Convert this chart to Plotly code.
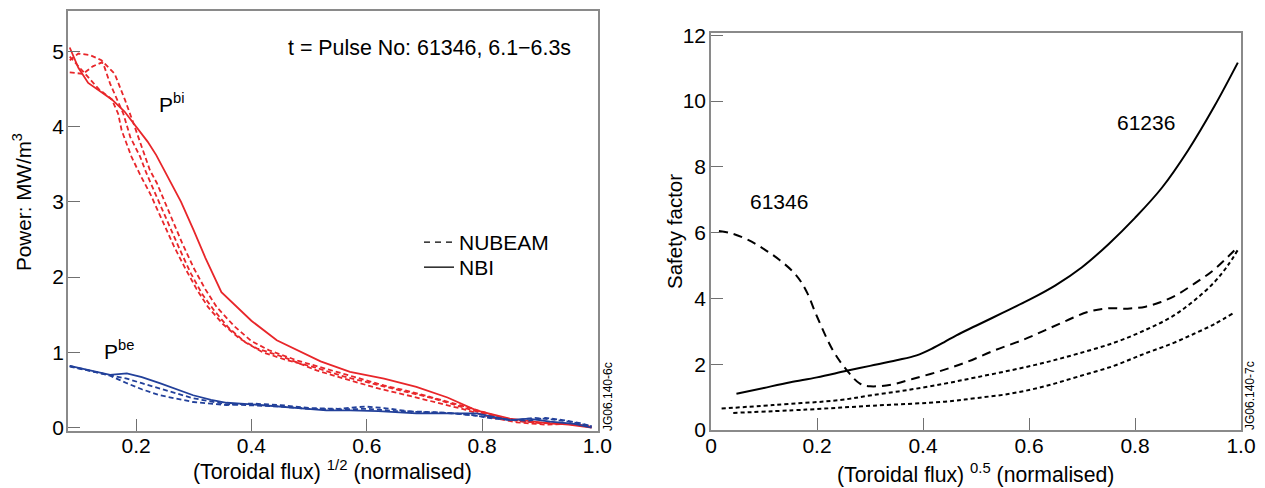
import plotly.graph_objects as go

# ---------------- Left panel: power deposition ----------------
pbi_nbi_x = [0.085, 0.10, 0.117, 0.14, 0.158, 0.18, 0.201, 0.22, 0.235, 0.255, 0.278, 0.30, 0.32, 0.348,
             0.40, 0.444, 0.478, 0.52, 0.571, 0.63, 0.686, 0.74, 0.79, 0.848, 0.90, 0.95, 0.99]
pbi_nbi_y = [5.05, 4.78, 4.58, 4.45, 4.36, 4.2, 3.99, 3.80, 3.62, 3.33, 3.0, 2.62, 2.26, 1.8,
             1.42, 1.16, 1.03, 0.88, 0.74, 0.65, 0.54, 0.40, 0.23, 0.12, 0.07, 0.04, 0.0]

pbi_nb1_x = [0.085, 0.10, 0.12, 0.14, 0.163, 0.181, 0.198, 0.212, 0.224, 0.236, 0.25, 0.262, 0.28, 0.30,
             0.32, 0.34, 0.37, 0.40, 0.43, 0.48, 0.53, 0.58, 0.63, 0.68, 0.73, 0.78, 0.83, 0.87, 0.92,
             0.96, 0.99]
pbi_nb1_y = [4.88, 4.97, 4.95, 4.88, 4.70, 4.35, 3.99, 3.68, 3.42, 3.25, 3.0, 2.78, 2.45, 2.12,
             1.84, 1.60, 1.35, 1.15, 1.03, 0.89, 0.78, 0.66, 0.56, 0.47, 0.37, 0.26, 0.14, 0.08, 0.06,
             0.05, 0.01]

pbi_nb2_x = [0.085, 0.108, 0.125, 0.14, 0.143, 0.155, 0.178, 0.19, 0.207, 0.218, 0.235, 0.255, 0.275,
             0.295, 0.315, 0.335, 0.36, 0.39, 0.42, 0.46, 0.51, 0.56, 0.61, 0.66, 0.71, 0.76, 0.81,
             0.86, 0.90, 0.95, 0.99]
pbi_nb2_y = [4.72, 4.70, 4.80, 4.85, 4.84, 4.57, 4.17, 3.86, 3.6, 3.38, 3.08, 2.72, 2.38,
             2.05, 1.77, 1.56, 1.33, 1.13, 1.00, 0.90, 0.80, 0.68, 0.58, 0.49, 0.40, 0.29, 0.17,
             0.09, 0.06, 0.05, 0.01]

pbi_nb3_x = [0.085, 0.10, 0.115, 0.135, 0.158, 0.169, 0.175, 0.184, 0.192, 0.207, 0.225, 0.245, 0.265,
             0.285, 0.305, 0.325, 0.35, 0.38, 0.41, 0.455, 0.513, 0.57, 0.62, 0.67, 0.72, 0.77, 0.82,
             0.86, 0.91, 0.95, 0.99]
pbi_nb3_y = [4.93, 4.80, 4.66, 4.50, 4.36, 4.17, 3.95, 3.77, 3.6, 3.36, 3.10, 2.76, 2.42,
             2.12, 1.84, 1.60, 1.38, 1.18, 1.05, 0.94, 0.76, 0.63, 0.52, 0.43, 0.34, 0.24, 0.13,
             0.07, 0.04, 0.05, 0.01]

pbe_nbi_x = [0.085, 0.12, 0.155, 0.184, 0.21, 0.241, 0.27, 0.299, 0.33, 0.357, 0.40, 0.444, 0.49, 0.53,
             0.571, 0.62, 0.686, 0.74, 0.79, 0.848, 0.88, 0.918, 0.96, 0.99]
pbe_nbi_y = [0.82, 0.76, 0.70, 0.72, 0.67, 0.59, 0.51, 0.43, 0.37, 0.33, 0.31, 0.285, 0.26, 0.23,
             0.23, 0.22, 0.19, 0.19, 0.19, 0.10, 0.12, 0.08, 0.05, 0.0]

pbe_nb1_x = [0.085, 0.12, 0.155, 0.184, 0.21, 0.241, 0.27, 0.299, 0.357, 0.40, 0.45, 0.50, 0.55, 0.597,
             0.63, 0.68, 0.73, 0.78, 0.82, 0.86, 0.89, 0.92, 0.95, 0.99]
pbe_nb1_y = [0.82, 0.76, 0.69, 0.59, 0.51, 0.43, 0.38, 0.34, 0.30, 0.32, 0.30, 0.26, 0.25, 0.28,
             0.26, 0.21, 0.20, 0.17, 0.12, 0.10, 0.13, 0.11, 0.08, 0.02]

pbe_nb2_x = [0.085, 0.12, 0.155, 0.184, 0.21, 0.241, 0.27, 0.299, 0.357, 0.40, 0.45, 0.50, 0.55, 0.60,
             0.65, 0.70, 0.75, 0.80, 0.84, 0.88, 0.91, 0.94, 0.97, 0.99]
pbe_nb2_y = [0.81, 0.75, 0.70, 0.65, 0.59, 0.52, 0.45, 0.39, 0.31, 0.30, 0.28, 0.25, 0.24, 0.25,
             0.22, 0.21, 0.19, 0.15, 0.11, 0.09, 0.13, 0.10, 0.06, 0.02]

# ---------------- Right panel: safety factor ----------------
q61236_x = [0.048, 0.10, 0.15, 0.20, 0.256, 0.30, 0.35, 0.388, 0.42, 0.441, 0.463, 0.50, 0.55, 0.598,
            0.65, 0.70, 0.75, 0.80, 0.85, 0.90, 0.95, 0.994]
q61236_y = [1.1, 1.28, 1.45, 1.6, 1.8, 1.95, 2.12, 2.27, 2.50, 2.68, 2.88, 3.17, 3.56, 3.94,
            4.4, 4.95, 5.65, 6.45, 7.35, 8.5, 9.85, 11.17]

q61346_x = [0.015, 0.04, 0.07, 0.10, 0.13, 0.16, 0.18, 0.20, 0.23, 0.256, 0.281, 0.30, 0.34, 0.38,
            0.43, 0.48, 0.535, 0.59, 0.63, 0.67, 0.711, 0.75, 0.786, 0.82, 0.849, 0.88, 0.912, 0.945,
            0.975, 0.995]
q61346_y = [6.05, 5.97, 5.78, 5.50, 5.16, 4.72, 4.22, 3.45, 2.42, 1.82, 1.41, 1.33, 1.38, 1.55,
            1.78, 2.05, 2.42, 2.75, 3.03, 3.32, 3.59, 3.70, 3.69, 3.75, 3.89, 4.12, 4.45, 4.82,
            5.26, 5.58]

qa_x = [0.02, 0.117, 0.243, 0.30, 0.369, 0.441, 0.50, 0.567, 0.63, 0.692, 0.76, 0.818, 0.87, 0.912,
        0.95, 0.975, 0.995]
qa_y = [0.65, 0.76, 0.91, 1.05, 1.21, 1.41, 1.60, 1.82, 2.05, 2.32, 2.65, 3.03, 3.45, 3.94,
        4.50, 5.0, 5.5]

qb_x = [0.042, 0.18, 0.306, 0.441, 0.50, 0.567, 0.63, 0.692, 0.76, 0.818, 0.87, 0.912, 0.95, 0.984]
qb_y = [0.52, 0.62, 0.74, 0.86, 0.97, 1.11, 1.33, 1.62, 1.95, 2.32, 2.63, 2.93, 3.22, 3.54]

RED = "#e8262a"
BLUE = "#22409a"
FONT = "Liberation Sans, Arial, Helvetica, sans-serif"

fig = go.Figure()

def add(x, y, color, dash, xa, ya, width=1.8, shape="linear"):
    fig.add_trace(go.Scatter(x=x, y=y, mode="lines", xaxis=xa, yaxis=ya,
                             line=dict(color=color, width=width, dash=dash, shape=shape),
                             showlegend=False, hoverinfo="skip"))

ddash = "5px,3px"
add(pbi_nbi_x, pbi_nbi_y, RED, "solid", "x", "y")
add(pbi_nb1_x, pbi_nb1_y, RED, ddash, "x", "y")
add(pbi_nb2_x, pbi_nb2_y, RED, ddash, "x", "y")
add(pbi_nb3_x, pbi_nb3_y, RED, ddash, "x", "y")
add(pbe_nbi_x, pbe_nbi_y, BLUE, "solid", "x", "y")
add(pbe_nb1_x, pbe_nb1_y, BLUE, ddash, "x", "y")
add(pbe_nb2_x, pbe_nb2_y, BLUE, ddash, "x", "y")

# legend entries (style keys)
fig.add_trace(go.Scatter(x=[None], y=[None], mode="lines", xaxis="x", yaxis="y",
                         line=dict(color="black", width=1.3, dash="6px,5px"), name="NUBEAM",
                         legend="legend"))
fig.add_trace(go.Scatter(x=[None], y=[None], mode="lines", xaxis="x", yaxis="y",
                         line=dict(color="black", width=1.3), name="NBI", legend="legend2"))

add(q61236_x, q61236_y, "black", "solid", "x2", "y2", width=2, shape="spline")
add(q61346_x, q61346_y, "black", "9px,6px", "x2", "y2", width=2, shape="spline")
add(qa_x, qa_y, "black", "4px,3px", "x2", "y2", width=2, shape="spline")
add(qb_x, qb_y, "black", "4px,3px", "x2", "y2", width=2, shape="spline")

W, H = 1265, 488
def px(x): return x / W
def py(y): return 1 - y / H

axis_common = dict(showline=True, linecolor="#8a8a8a", linewidth=1.5, mirror=True,
                   ticks="inside", ticklen=12, tickcolor="#707070", tickwidth=1.3,
                   showgrid=False, zeroline=False, automargin=False,
                   tickfont=dict(family=FONT, size=21, color="black"))

leg_common = dict(xanchor="left", yanchor="top", bgcolor="rgba(0,0,0,0)",
                  font=dict(family=FONT, size=21, color="black"), itemwidth=30)

fig.update_layout(
    template="none",
    width=W, height=H, margin=dict(l=0, r=0, t=0, b=0, pad=0), autosize=False,
    paper_bgcolor="white", plot_bgcolor="white",
    font=dict(family=FONT, size=21, color="black"),
    xaxis=dict(domain=[px(68), px(598)], range=[0.082, 1.001], ticklabelstandoff=-5,
               tickvals=[0.2, 0.4, 0.6, 0.8, 1.0], ticktext=["0.2", "0.4", "0.6", "0.8", "1.0"],
               anchor="y", **axis_common),
    yaxis=dict(domain=[py(431), py(11)], range=[-0.045, 5.535], ticklabelstandoff=-2,
               tickvals=[0, 1, 2, 3, 4, 5], anchor="x", **axis_common),
    xaxis2=dict(domain=[px(711), px(1241)], range=[0, 1.0], ticklabelstandoff=-4,
                tickvals=[0, 0.2, 0.4, 0.6, 0.8, 1.0], ticktext=["0", "0.2", "0.4", "0.6", "0.8", "1.0"],
                anchor="y2", **axis_common),
    yaxis2=dict(domain=[py(430), py(33)], range=[0, 12.07], ticklabelstandoff=-1,
                tickvals=[0, 2, 4, 6, 8, 10, 12], anchor="x2", **axis_common),
    legend=dict(x=px(419), y=py(222), **leg_common),
    legend2=dict(x=px(419), y=py(247), **leg_common),
)

ann = []
def A(text, x, y, size=21, angle=0, xanchor="center", yanchor="middle"):
    ann.append(dict(text=text, x=px(x), y=py(y), xref="paper", yref="paper", showarrow=False,
                    textangle=angle, xanchor=xanchor, yanchor=yanchor,
                    font=dict(family=FONT, size=size, color="black")))

A("t = Pulse No: 61346, 6.1\u22126.3s", 286, 48, size=21.4, xanchor="left")
A("P<sup>bi</sup>", 157, 103, xanchor="left")
A("P<sup>be</sup>", 102, 350, xanchor="left")
A("Power: MW/m<sup>3</sup>", 22, 202, size=20.7, angle=-90)
A("(Toroidal flux) <sup>1/2</sup> (normalised)", 332, 470, size=21.3)
A("JG06.140-6c", 608, 397, size=12, angle=-90)
A("61346", 748, 202, size=21, xanchor="left")
A("61236", 1115, 123, size=21, xanchor="left")
A("Safety factor", 674, 232, size=20.5, angle=-90)
A("(Toroidal flux) <sup>0.5</sup> (normalised)", 975, 473, size=21.2)
A("JG06.140-7c", 1250, 396, size=12, angle=-90)
fig.update_layout(annotations=ann)

fig.write_html("out.html", config={"displayModeBar": False},
               post_script="document.body.style.margin='0';document.body.style.overflow='hidden';")
